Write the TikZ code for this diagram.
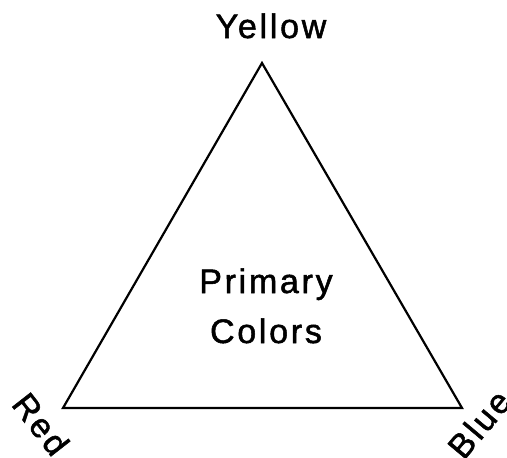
\documentclass[tikz,border=0pt]{standalone}
\usepackage{fontspec}
\setmainfont{Liberation Sans}[LetterSpace=8, FakeBold=1.5]
\begin{document}
\begin{tikzpicture}[x=1pt,y=1pt,
  lbl/.style={font=\fontsize{34}{40}\selectfont, inner sep=0pt},
  edge/.style={line width=2.2pt, line join=miter}]
\useasboundingbox (0,0) rectangle (507,-458);
\coordinate (Y) at (262,-63);
\coordinate (R) at (63,-408);
\coordinate (B) at (462,-408);
\draw[edge] (Y) -- (R) -- (B) -- cycle;
\node[lbl, anchor=base] (ylab) at (271,-38) {Yellow};
\node[lbl, anchor=base] (p1) at (266,-293) {Primary};
\node[lbl, anchor=base] (p2) at (266,-343) {Colors};
\node[lbl, rotate=-52] (rlab) at (41,-424) {Red};
\node[lbl, rotate=50] (blab) at (479,-424) {Blue};
\end{tikzpicture}
\end{document}
